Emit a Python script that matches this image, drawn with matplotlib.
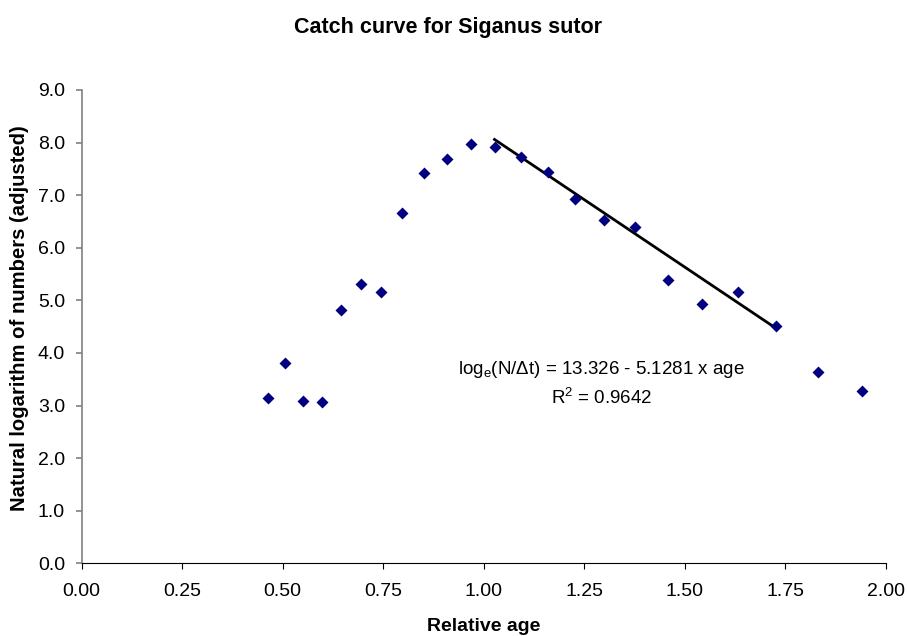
import numpy as np
import matplotlib
matplotlib.use("Agg")
import matplotlib.pyplot as plt

plt.rcParams['font.family'] = ['Liberation Sans', 'DejaVu Sans']
plt.rcParams['mathtext.default'] = 'regular'

# relative age and ln(N/dt)
age = [0.463, 0.506, 0.551, 0.597, 0.645, 0.694, 0.745, 0.797, 0.851, 0.909,
       0.968, 1.027, 1.094, 1.159, 1.228, 1.299, 1.377, 1.458, 1.542, 1.633,
       1.728, 1.832, 1.941]
ln_n = [3.15, 3.81, 3.09, 3.06, 4.82, 5.31, 5.16, 6.67, 7.43, 7.69,
        7.97, 7.91, 7.72, 7.44, 6.92, 6.53, 6.40, 5.39, 4.93, 5.15,
        4.51, 3.64, 3.28]

# regression on the descending limb
intercept = 13.326
slope = -5.1281
r2 = 0.9642
fit_start, fit_end = 11, 20  # indices of first/last point used in the fit

fig = plt.figure(figsize=(9.07, 6.36), dpi=100)
ax = fig.add_axes([0.090, 0.1143, 0.8865, 0.7442])

ax.plot(age, ln_n, linestyle='none', marker='D', markersize=6.3,
        color='#000080', markeredgecolor='none', zorder=3)

xf = np.array([age[fit_start], age[fit_end]])
ax.plot(xf, intercept + slope * xf, color='black', linewidth=2.0, zorder=2)

ax.text(1.294, 3.68, 'log$_{e}$(N/Δt) = %.3f - %.4f x age' % (intercept, -slope),
        ha='center', va='center', fontsize=13.5)
ax.text(1.294, 3.14, 'R$^{2}$ = %.4f' % r2, ha='center', va='center', fontsize=13.5)

ax.set_xlim(0, 2.0)
ax.set_ylim(0, 9.0)
ax.set_xticks(np.arange(0, 2.01, 0.25))
ax.set_xticklabels(['%.2f' % v for v in np.arange(0, 2.01, 0.25)])
ax.set_yticks(np.arange(0, 9.01, 1.0))
ax.set_yticklabels(['%.1f' % v for v in np.arange(0, 9.01, 1.0)])

ax.spines['top'].set_visible(False)
ax.spines['right'].set_visible(False)
ax.spines['left'].set_color('#808080')
ax.spines['left'].set_linewidth(1.2)
ax.spines['bottom'].set_color('black')
ax.tick_params(axis='y', colors='#808080', labelcolor='black', labelsize=14, length=4, width=1.2, pad=8)
ax.tick_params(axis='x', colors='black', labelsize=14, length=4, pad=10)

ax.set_xlabel('Relative age', fontsize=14, fontweight='bold', va='center')
ax.set_ylabel('Natural logarithm of numbers (adjusted)', fontsize=14.6, fontweight='bold', va='center')
ax.xaxis.set_label_coords(0.5, -0.1325)
ax.yaxis.set_label_coords(-0.0775, 0.519)
fig.text(0.494, 0.956, 'Catch curve for Siganus sutor', fontsize=15.5, fontweight='bold',
         ha='center', va='center')

fig.savefig('out.png', dpi=100)
